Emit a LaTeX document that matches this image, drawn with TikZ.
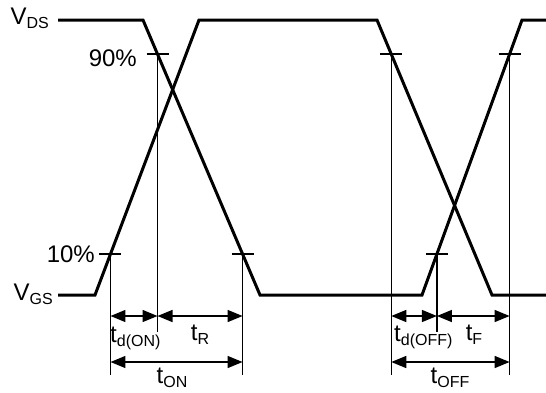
\documentclass[tikz,border=0pt]{standalone}
\usepackage{fontspec}
\setmainfont{Liberation Sans}
\usetikzlibrary{arrows.meta,calc}

\newcommand{\lowsub}[1]{\raisebox{-4pt}{\fontsize{16}{16}\selectfont #1}}

\begin{document}
\begin{tikzpicture}[x=1pt, y=-1pt, >={Triangle[length=15pt,width=12pt]},
  wave/.style={line width=3pt, line join=miter},
  guide/.style={line width=1.2pt},
  tick/.style={line width=1.4pt},
  dim/.style={line width=1.4pt, <->},
  lbl/.style={inner sep=0pt, font=\fontsize{24}{24}\selectfont}]
  \useasboundingbox (0,0) rectangle (546,392);

  % corners of the two waveforms
  \coordinate (dsA) at (143,20);  \coordinate (dsB) at (260,295);
  \coordinate (dsC) at (422,295); \coordinate (dsD) at (522,20);
  \coordinate (gsA) at (95,295);  \coordinate (gsB) at (199,20);
  \coordinate (gsC) at (377,20);  \coordinate (gsD) at (492,295);

  % 10% / 90% points
  \coordinate (on10)  at ($(gsA)!0.149!(gsB)$);
  \coordinate (on90)  at ($(dsA)!0.124!(dsB)$);
  \coordinate (onR)   at ($(dsA)!0.851!(dsB)$);
  \coordinate (off90) at ($(gsC)!0.124!(gsD)$);
  \coordinate (off10) at ($(dsC)!0.149!(dsD)$);
  \coordinate (offF)  at ($(dsC)!0.876!(dsD)$);

  \coordinate (lowEnd) at (0,375);
  \coordinate (midEnd) at (0,332);
  \coordinate (rowA) at (0,316);
  \coordinate (rowB) at (0,362);

  \node[lbl, anchor=base east] (vds) at (49,24) {V\lowsub{DS}};
  \node[lbl, anchor=base east] (vgs) at (53,300) {V\lowsub{GS}};
  \node[lbl, anchor=base east] (p90) at (137,66) {90\%};
  \node[lbl, anchor=base east] (p10) at (95,262) {10\%};

  \draw[wave] (58,20) -- (dsA) -- (dsB) -- (dsC) -- (dsD) -- (546,20);
  \draw[wave] (58,295) -- (gsA) -- (gsB) -- (gsC) -- (gsD) -- (546,295);

  % ticks
  \foreach \p in {on10, on90, onR, off90, off10, offF}
    \draw[tick] ([xshift=-11pt]\p) -- ([xshift=11pt]\p);

  % guide lines
  \draw[guide] (on10) -- (on10 |- lowEnd);
  \draw[guide] (on90) -- (on90 |- midEnd);
  \draw[guide] (onR) -- (onR |- lowEnd);
  \draw[guide] (off90) -- (off90 |- lowEnd);
  \draw[guide] (off10) -- (off10 |- midEnd);
  \draw[guide] (offF) -- (offF |- lowEnd);

  % timing arrows
  \draw[dim] (on10 |- rowA) -- (on90 |- rowA);
  \draw[dim] (on90 |- rowA) -- (onR |- rowA);
  \draw[dim] (on10 |- rowB) -- (onR |- rowB);
  \draw[dim] (off90 |- rowA) -- (off10 |- rowA);
  \draw[dim] (off10 |- rowA) -- (offF |- rowA);
  \draw[dim] (off90 |- rowB) -- (offF |- rowB);

  \node[lbl, anchor=base west] (tdon) at (110,342) {t\lowsub{d(ON)}};
  \node[lbl, anchor=base] (tr) at (200,340) {t\lowsub{R}};
  \node[lbl, anchor=base] (ton) at (172,383) {t\lowsub{ON}};
  \node[lbl, anchor=base west] (tdoff) at (394,341) {t\lowsub{d(OFF)}};
  \node[lbl, anchor=base] (tf) at (474,340) {t\lowsub{F}};
  \node[lbl, anchor=base] (toff) at (450,383) {t\lowsub{OFF}};
\end{tikzpicture}
\end{document}
